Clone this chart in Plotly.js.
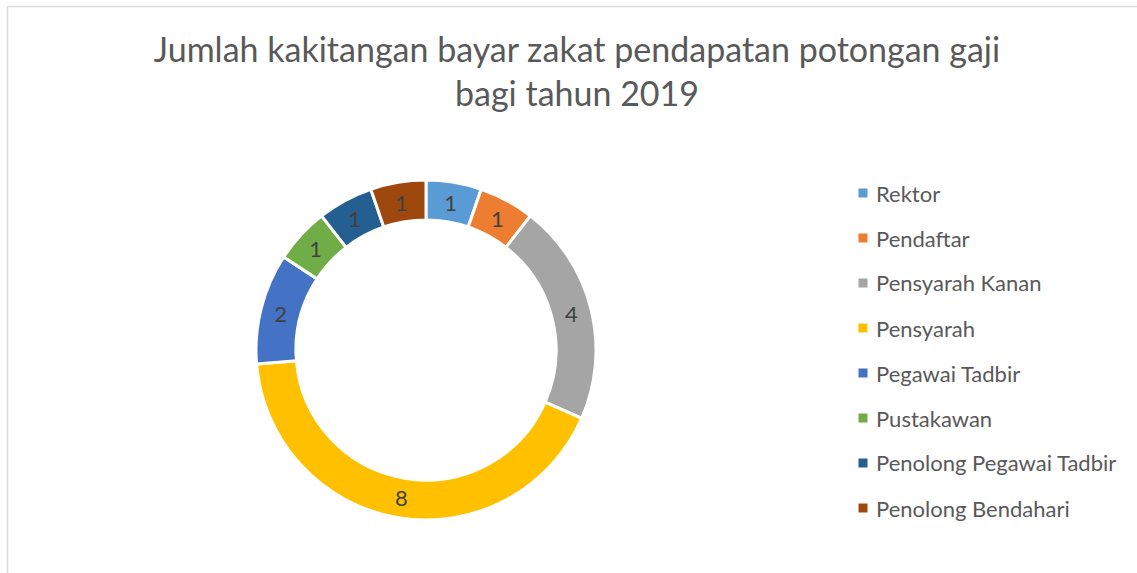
<!DOCTYPE html>
<html>
<head>
<meta charset="utf-8">
<script src="https://cdn.plot.ly/plotly-3.0.1.min.js"></script>
<style>
html,body{margin:0;padding:0;background:#fff;}
#chart{width:1137px;height:573px;}
</style>
</head>
<body>
<div id="chart"></div>
<script>
const categories = ["Rektor", "Pendaftar", "Pensyarah Kanan", "Pensyarah", "Pegawai Tadbir", "Pustakawan", "Penolong Pegawai Tadbir", "Penolong Bendahari"];
const values = [1, 1, 4, 8, 2, 1, 1, 1];
const colors = ["#5B9BD5", "#ED7D31", "#A5A5A5", "#FFC000", "#4472C4", "#70AD47", "#255E91", "#9E480E"];
const titleText = "Jumlah kakitangan bayar zakat pendapatan potongan gaji<br>bagi tahun 2019";

const W = 1137, H = 573;
const FONT = "Lato, 'Open Sans', sans-serif";

// donut geometry (pixels)
const cx = 426, cy = 350, R = 170;

const trace = {
  type: "pie",
  labels: categories,
  values: values,
  sort: false,
  direction: "clockwise",
  rotation: 0,
  hole: 0.765,
  marker: {colors: colors, line: {color: "#ffffff", width: 3}},
  textinfo: "value",
  textposition: "inside",
  insidetextorientation: "horizontal",
  textfont: {family: FONT, size: 22, color: "#404040"},
  hoverinfo: "none",
  showlegend: false,
  domain: {
    x: [(cx - R) / W, (cx + R) / W],
    y: [(H - cy - R) / H, (H - cy + R) / H]
  }
};

// manual legend built from the category/colour arrays
const legX = 863, legTextX = 874, legY0 = 193, legStep = 45, sq = 9;
const shapes = [
  {type: "line", xref: "paper", yref: "paper", x0: 7.5 / W, x1: 1, y0: 1 - 6.5 / H, y1: 1 - 6.5 / H, line: {color: "#D9D9D9", width: 1.5}},
  {type: "line", xref: "paper", yref: "paper", x0: 7.5 / W, x1: 7.5 / W, y0: 0, y1: 1 - 6.5 / H, line: {color: "#D9D9D9", width: 1.5}}
];
const annotations = [];
categories.forEach((c, i) => {
  const y = legY0 + i * legStep;
  shapes.push({
    type: "rect", xref: "paper", yref: "paper",
    x0: (legX - sq / 2) / W, x1: (legX + sq / 2) / W,
    y0: 1 - (y + sq / 2) / H, y1: 1 - (y - sq / 2) / H,
    fillcolor: colors[i], line: {width: 0}
  });
  annotations.push({
    xref: "paper", yref: "paper", x: legTextX / W, y: 1 - y / H,
    xanchor: "left", yanchor: "middle", showarrow: false,
    text: c, font: {family: FONT, size: 22, color: "#595959"}
  });
});

const layout = {
  width: W, height: H,
  margin: {l: 0, r: 0, t: 0, b: 0},
  paper_bgcolor: "#ffffff",
  plot_bgcolor: "#ffffff",
  title: {
    text: titleText,
    font: {family: FONT, size: 34, color: "#595959"},
    x: 577 / W, xanchor: "center",
    y: 1 - 62 / H, yanchor: "top"
  },
  shapes: shapes,
  annotations: annotations,
  showlegend: false
};

Plotly.newPlot("chart", [trace], layout, {displayModeBar: false, staticPlot: true});
</script>
</body>
</html>
